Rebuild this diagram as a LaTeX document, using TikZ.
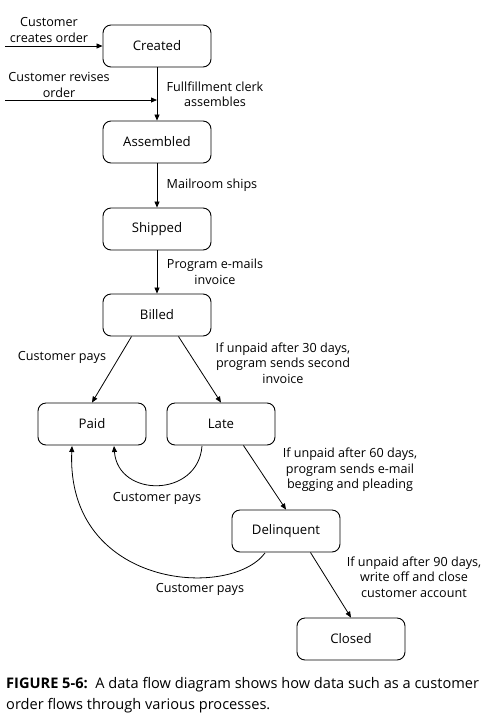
\documentclass[tikz,border=0pt]{standalone}
\usepackage{fontspec}
\setmainfont{Open Sans}
\usetikzlibrary{arrows.meta}
\begin{document}
\begin{tikzpicture}[x=1pt,y=-1pt,
  state/.style={draw, line width=0.9pt, rounded corners=8pt, minimum width=108pt, minimum height=42pt, font=\fontsize{13.2}{15}\selectfont, inner sep=0pt},
  lbl/.style={align=center, font=\fontsize{12.6}{15.5}\selectfont, inner sep=0pt},
  flow/.style={line width=0.8pt, -{Triangle[length=6pt,width=5pt]}}]
\useasboundingbox (0,0) rectangle (490,716);
\node[state] (created) at (157,46) {Created};
\node[state] (assembled) at (157,142) {Assembled};
\node[state] (shipped) at (157,229) {Shipped};
\node[state] (billed) at (157,315) {Billed};
\node[state] (paid) at (92,424) {Paid};
\node[state] (late) at (221,424) {Late};
\node[state] (delinquent) at (286,531) {Delinquent};
\node[state] (closed) at (351,639) {Closed};

\coordinate (src1) at (5,46);
\coordinate (src2) at (5,100);
\draw[flow] (src1) -- (created);
\draw[flow] (src2) -- (src2 -| created);
\node[lbl] (l1) at (49,30) {Customer\\creates order};
\node[lbl] (l2) at (59,85) {Customer revises\\order};

\draw[flow] (created) -- (assembled);
\node[lbl] (l3) at (215,94) {Fullfillment clerk\\assembles};
\draw[flow] (assembled) -- (shipped);
\node[lbl] (l4) at (212,185) {Mailroom ships};
\draw[flow] (shipped) -- (billed);
\node[lbl] (l5) at (215,272) {Program e-mails\\invoice};

\draw[flow] (billed.south west) ++(29,0) coordinate (b1) (b1) -- (paid.north);
\draw[flow] (billed.south east) ++(-33,0) coordinate (b2) (b2) -- (late.north);
\node[lbl] (l6) at (62,357) {Customer pays};
\node[lbl] (l7) at (283,363) {If unpaid after 30 days,\\program sends second\\invoice};

\coordinate (lt) at (202,446);
\coordinate (pd1) at (114,446);
\draw[flow] (lt) .. controls (198,498) and (118,498) .. (pd1);
\node[lbl] (l8) at (157,498) {Customer pays};

\draw[flow] (late.south east) ++(-32,0) coordinate (lt2) (lt2) -- (delinquent.north);
\node[lbl] (l9) at (350,470) {If unpaid after 60 days,\\program sends e-mail\\begging and pleading};

\coordinate (dq) at (265,553);
\coordinate (pd2) at (72,446);
\draw[flow] (dq) .. controls (230,600) and (66,588) .. (pd2);
\node[lbl] (l10) at (200,589) {Customer pays};

\draw[flow] (delinquent.south east) ++(-30,0) coordinate (dq2) (dq2) -- (closed.north);
\node[lbl] (l11) at (414,577) {If unpaid after 90 days,\\write off and close\\customer account};

\node[anchor=north west, align=left, font=\fontsize{14.6}{21}\selectfont, inner sep=0pt] (cap) at (6,677)
  {\textbf{FIGURE 5-6:}\ \ A data flow diagram shows how data such as a customer\\order flows through various processes.};
\end{tikzpicture}
\end{document}
